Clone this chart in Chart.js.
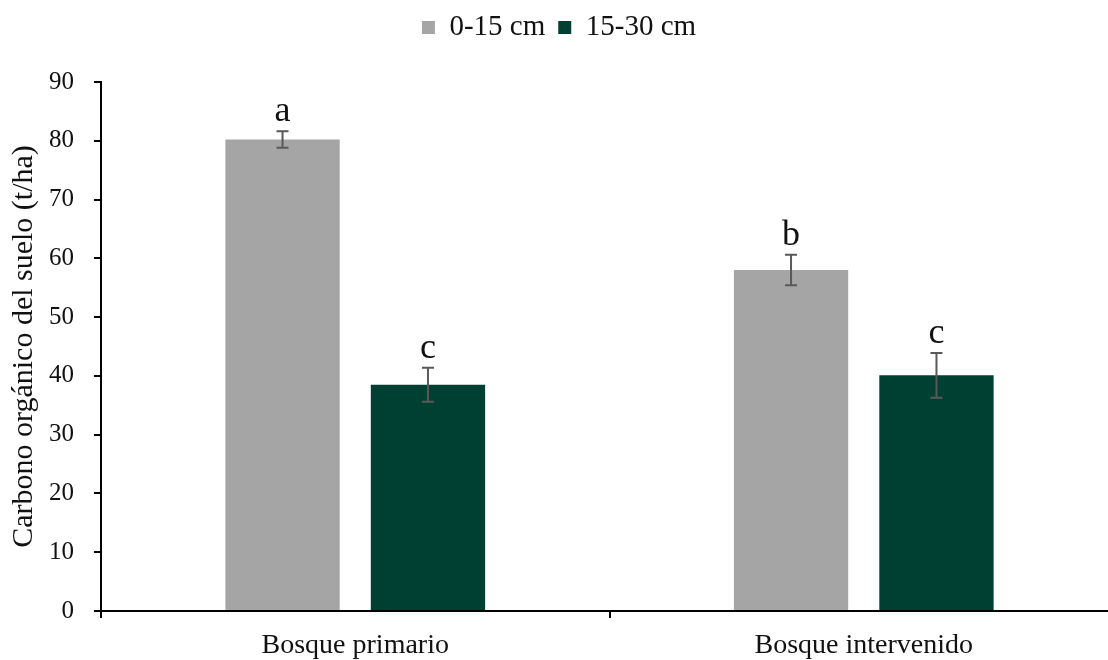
<!DOCTYPE html>
<html>
<head>
<meta charset="utf-8">
<script src="https://cdn.jsdelivr.net/npm/chart.js@4.4.1/dist/chart.umd.min.js"></script>
<style>
  html, body { margin: 0; padding: 0; background: #fff; overflow: hidden; }
  #wrap { width: 1118px; height: 660px; }
</style>
</head>
<body>
<div id="wrap"><canvas id="c" width="1118" height="660"></canvas></div>
<script>
const categories = ['Bosque primario', 'Bosque intervenido'];
const seriesNames = ['0-15 cm', '15-30 cm'];
const shallow = [80.2, 58.0];
const deep = [38.5, 40.1];
const shallowErr = [1.4, 2.6];
const deepErr = [2.9, 3.8];
const shallowLetters = ['a', 'b'];
const deepLetters = ['c', 'c'];
const yTicks = [0, 10, 20, 30, 40, 50, 60, 70, 80, 90];

const serif = '"Liberation Serif", "Times New Roman", serif';

// push the plot down below the legend
const legendGap = {
  id: 'legendGap',
  beforeInit(chart) {
    const lg = chart.legend;
    const fit = lg.fit;
    lg.fit = function () { fit.call(this); this.height += 30; };
  }
};

// error bars and significance letters
const errorBars = {
  id: 'errorBars',
  afterDatasetsDraw(chart) {
    const ctx = chart.ctx;
    const y = chart.scales.y;
    chart.data.datasets.forEach((ds, i) => {
      const meta = chart.getDatasetMeta(i);
      meta.data.forEach((bar, j) => {
        const v = ds.data[j];
        const top = y.getPixelForValue(v + ds.err[j]);
        const bot = y.getPixelForValue(v - ds.err[j]);
        ctx.save();
        ctx.strokeStyle = '#595959';
        ctx.lineWidth = 2;
        ctx.beginPath();
        ctx.moveTo(bar.x, top); ctx.lineTo(bar.x, bot);
        ctx.moveTo(bar.x - 6, top); ctx.lineTo(bar.x + 6, top);
        ctx.moveTo(bar.x - 6, bot); ctx.lineTo(bar.x + 6, bot);
        ctx.stroke();
        ctx.fillStyle = '#111';
        ctx.font = '36px ' + serif;
        ctx.textAlign = 'center';
        ctx.textBaseline = 'alphabetic';
        ctx.fillText(ds.letters[j], bar.x, top - 10);
        ctx.restore();
      });
    });
  }
};

new Chart(document.getElementById('c'), {
  type: 'bar',
  data: {
    labels: categories,
    datasets: [{
      label: seriesNames[0],
      data: shallow,
      err: shallowErr,
      letters: shallowLetters,
      backgroundColor: '#a5a5a5',
      categoryPercentage: 0.572,
      barPercentage: 0.786
    }, {
      label: seriesNames[1],
      data: deep,
      err: deepErr,
      letters: deepLetters,
      backgroundColor: '#004032',
      categoryPercentage: 0.572,
      barPercentage: 0.786
    }]
  },
  options: {
    responsive: false,
    animation: false,
    layout: { padding: { top: 0, right: 0, bottom: 0, left: 0 } },
    plugins: {
      tooltip: { enabled: false },
      legend: {
        position: 'top',
        labels: {
          boxWidth: 13,
          boxHeight: 13,
          padding: 13,
          color: '#111',
          font: { family: serif, size: 29 }
        }
      }
    },
    scales: {
      x: {
        afterFit(scale) { scale.height = 49; },
        border: { color: '#000', width: 2 },
        grid: { display: true, drawOnChartArea: false, color: '#000', lineWidth: 2, tickLength: 7, offset: true },
        ticks: { color: '#111', padding: 11, font: { family: serif, size: 28 } }
      },
      y: {
        min: 0,
        max: 90,
        afterFit(scale) { scale.width = 101; },
        afterBuildTicks(scale) { scale.ticks = yTicks.map(v => ({ value: v })); },
        border: { color: '#000', width: 2 },
        grid: { display: true, drawOnChartArea: false, color: '#000', lineWidth: 2, tickLength: 7 },
        ticks: { color: '#111', padding: 20, font: { family: serif, size: 25 } },
        title: {
          display: true,
          text: 'Carbono orgánico del suelo (t/ha)',
          color: '#111',
          padding: { top: 6, bottom: 0 },
          font: { family: serif, size: 30 }
        }
      }
    }
  },
  plugins: [legendGap, errorBars]
});
</script>
</body>
</html>
